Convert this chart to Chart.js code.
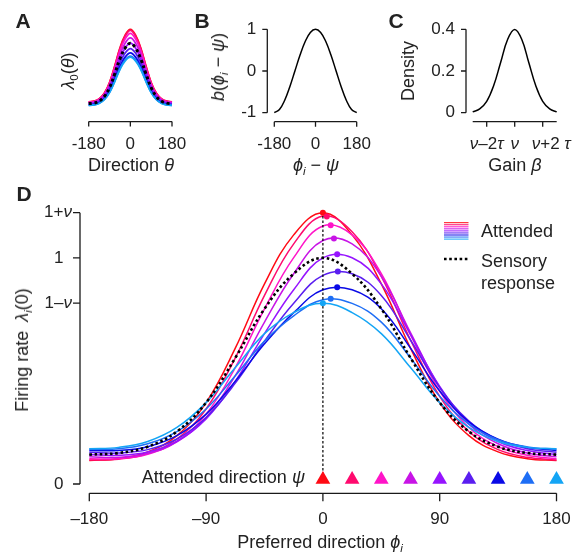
<!DOCTYPE html>
<html lang="en">
<head>
<meta charset="UTF-8" />
<title>Attention gain model</title>
<style>
  html, body { margin: 0; padding: 0; background: #fff; overflow: hidden; }
  #wrap {
    position: relative; width: 575px; height: 558px;
    font-family: "Liberation Sans", Arial, Helvetica, sans-serif; color: #222;
  }
  canvas { position: absolute; left: 0; top: 0; }
  .t { position: absolute; white-space: nowrap; line-height: 1; font-size: 18px; transform: translate(-50%, -50%); }
  .rot { transform: translate(-50%, -50%) rotate(-90deg); }
  .lft { transform: translate(0, -50%); }
  .rgt { transform: translate(-100%, -50%); }
  .panel { font-weight: bold; font-size: 21px; }
  sub { font-size: 0.65em; vertical-align: -0.3em; line-height: 0; }
</style>
</head>
<body>
<div id="wrap">
  <canvas id="chartA" width="575" height="558"></canvas>
  <canvas id="chartB" width="575" height="558"></canvas>
  <canvas id="chartC" width="575" height="558"></canvas>
  <canvas id="chartD" width="575" height="558"></canvas>

  <div class="t panel" style="left:23px;top:20px">A</div>
  <div class="t panel" style="left:202px;top:20px">B</div>
  <div class="t panel" style="left:396px;top:20px">C</div>
  <div class="t panel" style="left:24px;top:193px">D</div>

  <div class="t rot" style="left:68px;top:71px"><i>λ</i><sub>0</sub>(<i>θ</i>)</div>
  <div class="t rot" style="left:218px;top:67px"><i>b</i>(<i>ϕ</i><sub><i>i</i></sub> − <i>ψ</i>)</div>
  <div class="t rot" style="left:408px;top:71px">Density</div>
  <div class="t" style="left:131px;top:165px">Direction <i>θ</i></div>
  <div class="t" style="left:316px;top:165px"><i>ϕ</i><sub><i>i</i></sub> − <i>ψ</i></div>
  <div class="t" style="left:515px;top:165px">Gain <i>β</i></div>

  <div class="t rot" style="left:22px;top:350px">Firing rate&ensp;<i>λ</i><sub><i>i</i></sub>(0)</div>
  <div class="t" style="left:320px;top:542px">Preferred direction <i>ϕ</i><sub><i>i</i></sub></div>
  <div class="t rgt" style="left:305px;top:477px">Attended direction <i>ψ</i></div>
  <div class="t lft" style="left:481px;top:231px">Attended</div>
  <div class="t lft" style="left:481px;top:261px">Sensory</div>
  <div class="t lft" style="left:481px;top:283px">response</div>
</div>

<script src="https://cdn.jsdelivr.net/npm/chart.js"></script>
<script>
  // preferred direction grid (deg), shared by panels A and D
  const phi = [-180, -157.5, -135, -112.5, -90, -67.5, -45, -22.5, 0, 22.5, 45, 67.5, 90, 112.5, 135, 157.5, 180];

  const attendedDirs = [0, 22.5, 45, 67.5, 90, 112.5, 135, 157.5, 180];
  const attendedColors = ['#ff0a14', '#ff0a6e', '#ff14c8', '#c814e6', '#9614ff', '#5a1ef0', '#0a0ae6', '#1e6ef5', '#14a5f5'];

  // sensory response (dotted)
  const sensory = [0.130, 0.137, 0.165, 0.232, 0.360, 0.558, 0.775, 0.930, 1.000, 0.930, 0.775, 0.558, 0.360, 0.232, 0.165, 0.137, 0.130];

  // panel D: rate for each attended direction
  const rateAtt0 = [0.104, 0.112, 0.142, 0.214, 0.360, 0.601, 0.885, 1.102, 1.200, 1.102, 0.885, 0.601, 0.360, 0.214, 0.142, 0.112, 0.104];
  const rateAtt1 = [0.106, 0.110, 0.135, 0.199, 0.332, 0.558, 0.834, 1.062, 1.185, 1.116, 0.918, 0.637, 0.388, 0.232, 0.152, 0.118, 0.106];
  const rateAtt2 = [0.112, 0.112, 0.132, 0.189, 0.309, 0.515, 0.775, 1.001, 1.141, 1.102, 0.930, 0.661, 0.411, 0.250, 0.165, 0.127, 0.112];
  const rateAtt3 = [0.120, 0.118, 0.135, 0.186, 0.294, 0.479, 0.716, 0.930, 1.077, 1.062, 0.918, 0.670, 0.427, 0.265, 0.178, 0.137, 0.120];
  const rateAtt4 = [0.130, 0.127, 0.142, 0.189, 0.288, 0.455, 0.665, 0.859, 1.000, 1.001, 0.885, 0.661, 0.432, 0.275, 0.188, 0.148, 0.130];
  const rateAtt5 = [0.140, 0.137, 0.152, 0.199, 0.294, 0.446, 0.632, 0.799, 0.923, 0.930, 0.834, 0.637, 0.427, 0.278, 0.196, 0.156, 0.140];
  const rateAtt6 = [0.148, 0.148, 0.165, 0.214, 0.309, 0.455, 0.620, 0.758, 0.859, 0.859, 0.775, 0.601, 0.411, 0.275, 0.198, 0.162, 0.148];
  const rateAtt7 = [0.154, 0.156, 0.178, 0.232, 0.332, 0.479, 0.632, 0.744, 0.815, 0.799, 0.716, 0.558, 0.388, 0.265, 0.196, 0.164, 0.154];
  const rateAtt8 = [0.156, 0.162, 0.188, 0.250, 0.360, 0.515, 0.665, 0.758, 0.800, 0.758, 0.665, 0.515, 0.360, 0.250, 0.188, 0.162, 0.156];

  // peak of each attended curve
  const peakPhi = [0, 3, 6, 8.5, 11, 11.5, 11, 6, 0];
  const peakRate = [1.200, 1.183, 1.145, 1.086, 1.016, 0.940, 0.870, 0.819, 0.800];

  // panel A: gain-scaled tuning curves
  const tuneA0 = [0.156, 0.164, 0.198, 0.278, 0.432, 0.670, 0.930, 1.116, 1.200, 1.116, 0.930, 0.670, 0.432, 0.278, 0.198, 0.164, 0.156];
  const tuneA1 = [0.154, 0.162, 0.196, 0.275, 0.427, 0.661, 0.918, 1.102, 1.185, 1.102, 0.918, 0.661, 0.427, 0.275, 0.196, 0.162, 0.154];
  const tuneA2 = [0.148, 0.156, 0.188, 0.265, 0.411, 0.637, 0.885, 1.062, 1.141, 1.062, 0.885, 0.637, 0.411, 0.265, 0.188, 0.156, 0.148];
  const tuneA3 = [0.140, 0.148, 0.178, 0.250, 0.388, 0.601, 0.834, 1.001, 1.077, 1.001, 0.834, 0.601, 0.388, 0.250, 0.178, 0.148, 0.140];
  const tuneA4 = [0.130, 0.137, 0.165, 0.232, 0.360, 0.558, 0.775, 0.930, 1.000, 0.930, 0.775, 0.558, 0.360, 0.232, 0.165, 0.137, 0.130];
  const tuneA5 = [0.120, 0.127, 0.152, 0.214, 0.332, 0.515, 0.716, 0.859, 0.923, 0.859, 0.716, 0.515, 0.332, 0.214, 0.152, 0.127, 0.120];
  const tuneA6 = [0.112, 0.118, 0.142, 0.199, 0.309, 0.479, 0.665, 0.799, 0.859, 0.799, 0.665, 0.479, 0.309, 0.199, 0.142, 0.118, 0.112];
  const tuneA7 = [0.106, 0.112, 0.135, 0.189, 0.294, 0.455, 0.632, 0.758, 0.815, 0.758, 0.632, 0.455, 0.294, 0.189, 0.135, 0.112, 0.106];
  const tuneA8 = [0.104, 0.110, 0.132, 0.186, 0.288, 0.446, 0.620, 0.744, 0.800, 0.744, 0.620, 0.446, 0.288, 0.186, 0.132, 0.110, 0.104];

  // panel B: attention profile
  const diffB = [-180, -157.5, -135, -112.5, -90, -67.5, -45, -22.5, 0, 22.5, 45, 67.5, 90, 112.5, 135, 157.5, 180];
  const profileB = [-1, -0.924, -0.707, -0.383, 0, 0.383, 0.707, 0.924, 1, 0.924, 0.707, 0.383, 0, -0.383, -0.707, -0.924, -1];

  // panel C: gain density (x in units of tau around nu)
  const gainC = [-3, -2.5, -2, -1.5, -1, -0.5, 0, 0.5, 1, 1.5, 2, 2.5, 3];
  const densityC = [0.004, 0.018, 0.054, 0.130, 0.242, 0.352, 0.399, 0.352, 0.242, 0.130, 0.054, 0.018, 0.004];

  // ticks
  const dirTicks = [-180, 0, 180];
  const dirTickLabels = ['-180', '0', '180'];
  const bTicksY = [-1, 0, 1];
  const bTickLabelsY = ['-1', '0', '1'];
  const cTicksX = [-2, 0, 2];
  const cTickLabelsX = ['*ν*–2*τ*', '*ν*', '\u2003*ν*+2 *τ*'];
  const cTicksY = [0, 0.2, 0.4];
  const cTickLabelsY = ['0', '0.2', '0.4'];
  const dTicksX = [-180, -90, 0, 90, 180];
  const dTickLabelsX = ['–180', '–90', '0', '90', '180'];
  const dTicksY = [0, 0.8, 1, 1.2];
  const dTickLabelsY = ['0\u2002', '1–*ν*', '1\u2002', '1+*ν*'];

  const FONT = '"Liberation Sans", Arial, sans-serif';
  const W = 575, H = 558;

  // text with *italic* segments
  function drawRich(ctx, label, x, y, align) {
    const parts = label.split('*');
    const fonts = parts.map((_, i) => (i % 2 ? 'italic ' : '') + '17px ' + FONT);
    const widths = parts.map((p, i) => { ctx.font = fonts[i]; return ctx.measureText(p).width; });
    const total = widths.reduce((a, b) => a + b, 0);
    let cx = align === 'center' ? x - total / 2 : align === 'right' ? x - total : x;
    ctx.textAlign = 'left';
    ctx.textBaseline = 'middle';
    parts.forEach((p, i) => { ctx.font = fonts[i]; ctx.fillText(p, cx, y); cx += widths[i]; });
  }

  const axisSpec = {
    chartA: { x: { gap: 9, len: 5, off: 22.5, ticks: dirTicks, labels: dirTickLabels } },
    chartB: {
      x: { gap: 9, len: 5, off: 22.5, ticks: dirTicks, labels: dirTickLabels },
      y: { gap: 7, len: 5, off: 11, ticks: bTicksY, labels: bTickLabelsY }
    },
    chartC: {
      x: { gap: 9, len: 5, off: 22.5, ticks: cTicksX, labels: cTickLabelsX },
      y: { gap: 6.7, len: 5, off: 11, ticks: cTicksY, labels: cTickLabelsY }
    },
    chartD: {
      x: { gap: 9.3, len: 8, off: 26.2, ticks: dTicksX, labels: dTickLabelsX },
      y: { gap: 9.3, len: 7, off: 8, ticks: dTicksY, labels: dTickLabelsY },
      legend: { x0: 444, x1: 468.5, y0: 222.7, dy: 2.05, dotY: 259 }
    }
  };

  // detached axes drawn from the chart's own scales
  const detachedAxes = {
    id: 'detachedAxes',
    afterDatasetsDraw(chart) {
      const spec = axisSpec[chart.canvas.id];
      if (!spec) return;
      const ctx = chart.ctx, area = chart.chartArea;
      ctx.save();
      ctx.strokeStyle = '#1a1a1a';
      ctx.fillStyle = '#222';
      ctx.lineWidth = 1.3;
      if (spec.x) {
        const s = chart.scales.x, a = spec.x, y0 = area.bottom + a.gap;
        ctx.beginPath();
        ctx.moveTo(s.getPixelForValue(s.min), y0);
        ctx.lineTo(s.getPixelForValue(s.max), y0);
        a.ticks.forEach(v => {
          const px = s.getPixelForValue(v);
          ctx.moveTo(px, y0);
          ctx.lineTo(px, y0 + a.len);
        });
        ctx.stroke();
        a.ticks.forEach((v, i) => drawRich(ctx, a.labels[i], s.getPixelForValue(v), y0 + a.off, 'center'));
      }
      if (spec.y) {
        const s = chart.scales.y, a = spec.y, x0 = area.left - a.gap;
        ctx.beginPath();
        ctx.moveTo(x0, s.getPixelForValue(s.min));
        ctx.lineTo(x0, s.getPixelForValue(s.max));
        a.ticks.forEach(v => {
          const py = s.getPixelForValue(v);
          ctx.moveTo(x0, py);
          ctx.lineTo(x0 - a.len, py);
        });
        ctx.stroke();
        a.ticks.forEach((v, i) => drawRich(ctx, a.labels[i], x0 - a.off, s.getPixelForValue(v), 'right'));
      }
      if (spec.legend) {
        const l = spec.legend;
        ctx.lineWidth = 1;
        attendedColors.forEach((c, i) => {
          ctx.strokeStyle = c;
          ctx.beginPath();
          ctx.moveTo(l.x0, l.y0 + i * l.dy);
          ctx.lineTo(l.x1, l.y0 + i * l.dy);
          ctx.stroke();
        });
        ctx.strokeStyle = '#000';
        ctx.lineWidth = 2.6;
        ctx.setLineDash([2.6, 2.6]);
        ctx.beginPath();
        ctx.moveTo(l.x0, l.dotY);
        ctx.lineTo(l.x1, l.dotY);
        ctx.stroke();
      }
      ctx.restore();
    }
  };
  Chart.register(detachedAxes);

  function xy(xs, ys) {
    return xs.map((x, i) => ({ x: x, y: ys[i] }));
  }

  function makeOptions(box, xr, yr) {
    return {
      responsive: false,
      animation: false,
      events: [],
      layout: { padding: { left: box[0], top: box[1], right: W - box[2], bottom: H - box[3] } },
      scales: {
        x: { type: 'linear', display: false, min: xr[0], max: xr[1] },
        y: { type: 'linear', display: false, min: yr[0], max: yr[1] }
      },
      plugins: { legend: { display: false }, tooltip: { enabled: false } }
    };
  }

  function curve(data, color, width, order) {
    return {
      data: data, borderColor: color, borderWidth: width, pointRadius: 0,
      tension: 0.4, fill: false, clip: false, order: order
    };
  }

  // panel A
  const tuneA = [tuneA0, tuneA1, tuneA2, tuneA3, tuneA4, tuneA5, tuneA6, tuneA7, tuneA8];
  const dsA = tuneA.map((arr, k) => curve(xy(phi, arr), attendedColors[k], 1.8, 20 - k));
  dsA.push(Object.assign(curve(xy(phi, sensory), '#000', 3, 1), { borderDash: [3, 2.8] }));
  new Chart(document.getElementById('chartA'), {
    type: 'line',
    data: { datasets: dsA },
    options: makeOptions([88.7, 29.3, 172, 112.6], [-180, 180], [0, 1.2])
  });

  // panel B
  new Chart(document.getElementById('chartB'), {
    type: 'line',
    data: { datasets: [curve(xy(diffB, profileB), '#000', 1.5, 1)] },
    options: makeOptions([274.3, 29.3, 356.7, 112.7], [-180, 180], [-1, 1])
  });

  // panel C
  new Chart(document.getElementById('chartC'), {
    type: 'line',
    data: { datasets: [curve(xy(gainC, densityC), '#000', 1.5, 1)] },
    options: makeOptions([472.7, 29.3, 556.7, 112.7], [-3, 3], [0, 0.4])
  });

  // panel D
  const markerLevel = 0.02;
  const rateAtt = [rateAtt0, rateAtt1, rateAtt2, rateAtt3, rateAtt4, rateAtt5, rateAtt6, rateAtt7, rateAtt8];
  const dsD = rateAtt.map((arr, k) => curve(xy(phi, arr), attendedColors[k], 1.5, 20 - k));
  dsD.push(Object.assign(curve(xy(phi, sensory), '#000', 2.6, 3), { borderDash: [2.6, 2.6] }));
  dsD.push({
    data: [{ x: attendedDirs[0], y: markerLevel }, { x: attendedDirs[0], y: peakRate[0] }],
    borderColor: '#000', borderWidth: 1.2, borderDash: [2.5, 2], pointRadius: 0,
    tension: 0, clip: false, order: 2
  });
  dsD.push({
    data: xy(peakPhi, peakRate), showLine: false, pointRadius: 3, pointBorderWidth: 0,
    pointBackgroundColor: attendedColors, clip: false, order: 1
  });
  dsD.push({
    data: attendedDirs.map(d => ({ x: d, y: markerLevel })), showLine: false,
    pointStyle: 'triangle', pointRadius: 8.5, pointBorderWidth: 0,
    pointBackgroundColor: attendedColors, clip: false, order: 0
  });
  new Chart(document.getElementById('chartD'), {
    type: 'line',
    data: { datasets: dsD },
    options: makeOptions([89.3, 212.7, 556.5, 484], [-180, 180], [0, 1.2])
  });
</script>
</body>
</html>
